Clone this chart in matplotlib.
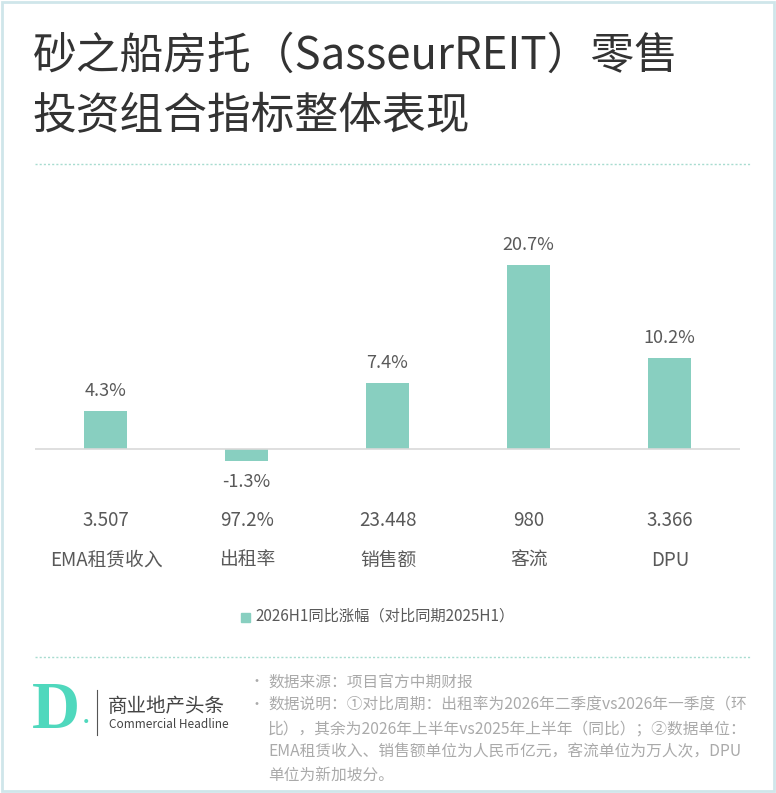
import matplotlib
matplotlib.use("Agg")
import matplotlib.pyplot as plt
from matplotlib.patches import Rectangle

plt.rcParams['font.family'] = ['Noto Sans CJK SC', 'DejaVu Sans']

categories = ["EMA租赁收入", "出租率", "销售额", "客流", "DPU"]
growth = [4.3, -1.3, 7.4, 20.7, 10.2]
values = ["3.507", "97.2%", "23.448", "980", "3.366"]
legend_label = "2026H1同比涨幅（对比同期2025H1）"

W, H = 776, 793
fig = plt.figure(figsize=(W/100, H/100), dpi=100)
fig.patch.set_facecolor("white")
fig.add_artist(Rectangle((0.002, 0.002), 0.996, 0.996, transform=fig.transFigure,
                         fill=False, edgecolor="#cfe6ea", lw=2))

def fx(x): return x / W
def fy(y): return 1 - y / H

fig.text(fx(33), fy(56), "砂之船房托（SasseurREIT）零售", fontsize=31.5, color="#333333", va="center")
fig.text(fx(33), fy(116), "投资组合指标整体表现", fontsize=31.5, color="#333333", va="center")
for yy in (164, 657):
    fig.add_artist(plt.Line2D([fx(35), fx(750)], [fy(yy), fy(yy)], transform=fig.transFigure,
                              color="#a8dcd0", lw=1, ls=(0, (1.5, 1.5))))

teal = "#88cfc0"
ax = fig.add_axes([fx(35), fy(470), fx(705), 270/H])
x = list(range(len(categories)))
ax.bar(x, growth, width=0.31, color=teal)
ax.set_xlim(-0.5, 4.5)
ax.set_ylim(-2.36, 28.0)
ax.axhline(0, color="#d9d9d9", lw=1.2)
ax.axis("off")
for xi, g in zip(x, growth):
    if g >= 0:
        ax.annotate(f"{g}%", (xi, g), xytext=(0, 8), textcoords="offset points",
                    ha="center", va="bottom", fontsize=13, color="#595959")
    else:
        ax.annotate(f"{g}%", (xi, g), xytext=(0, -9), textcoords="offset points",
                    ha="center", va="top", fontsize=13, color="#595959")
for i, (c, v) in enumerate(zip(categories, values)):
    cx = fx(106 + 141 * i)
    fig.text(cx, fy(520), v, ha="center", va="center", fontsize=13.5, color="#595959")
    fig.text(cx, fy(560), c, ha="center", va="center", fontsize=13.5, color="#595959")

fig.add_artist(Rectangle((fx(241), fy(622)), fx(9), 9/H, transform=fig.transFigure, color=teal))
fig.text(fx(255), fy(616), legend_label, ha="left", va="center", fontsize=11, color="#595959")

# logo
fig.text(fx(32), fy(712), "D", fontsize=48, color="#4fd8bd", va="center", ha="left",
         fontweight="bold", family="Liberation Serif")
fig.text(fx(82), fy(730), ".", fontsize=22, color="#4fd8bd", va="bottom")
fig.add_artist(plt.Line2D([fx(97), fx(97)], [fy(690), fy(735)], transform=fig.transFigure, color="#555555", lw=0.8))
fig.text(fx(108), fy(706), "商业地产头条", fontsize=14, color="#444444", va="center")
fig.text(fx(109), fy(725), "Commercial Headline", fontsize=8.5, color="#444444", va="center")

gray = "#aaaaaa"
lines = [
    (True, "数据来源：项目官方中期财报"),
    (True, "数据说明：①对比周期：出租率为2026年二季度vs2026年一季度（环"),
    (False, "比），其余为2026年上半年vs2025年上半年（同比）；②数据单位："),
    (False, "EMA租赁收入、销售额单位为人民币亿元，客流单位为万人次，DPU"),
    (False, "单位为新加坡分。"),
]
for i, (bullet, t) in enumerate(lines):
    y = fy(682 + 23.3 * i)
    if bullet:
        fig.text(fx(249), y, "•", fontsize=10, color=gray, va="center")
    fig.text(fx(268), y, t, fontsize=11.3, color=gray, va="center")

fig.savefig("out.png", dpi=100)
